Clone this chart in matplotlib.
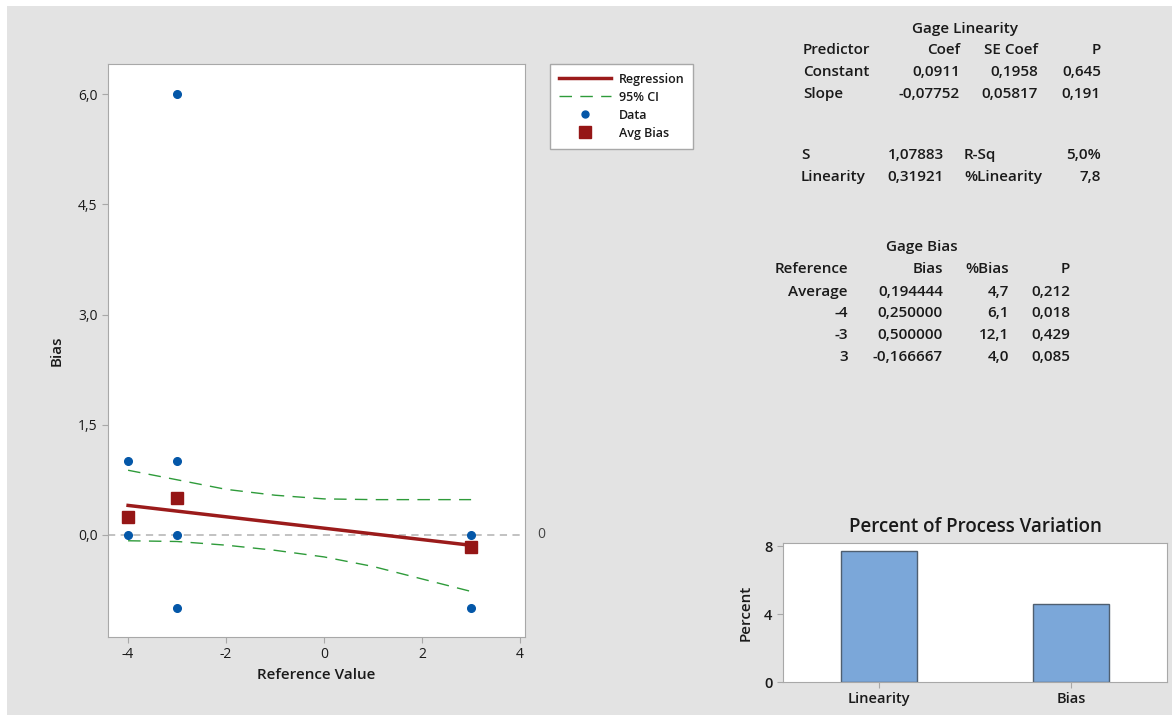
import numpy as np
import matplotlib
matplotlib.use("Agg")
import matplotlib.pyplot as plt
from matplotlib.lines import Line2D
from matplotlib.patches import Rectangle

plt.rcParams['font.family'] = ['Open Sans', 'DejaVu Sans']
plt.rcParams['axes.unicode_minus'] = False

# --------------------- DATA
ref_data = [-4, -4, -3, -3, -3, -3, 3, 3]
bias_data = [1.0, 0.0, 6.0, 1.0, 0.0, -1.0, 0.0, -1.0]

ref_levels = [-4, -3, 3]
avg_bias = [0.25, 0.5, -0.166667]

coef_const = 0.0911
coef_slope = -0.07752

ci_x = [-4, -3, -2, -1, 0, 1, 2, 3]
ci_upper = [0.88, 0.75, 0.62, 0.54, 0.49, 0.48, 0.48, 0.48]
ci_lower = [-0.08, -0.09, -0.14, -0.21, -0.30, -0.43, -0.60, -0.77]

bar_labels = ['Linearity', 'Bias']
bar_values = [7.7, 4.6]

lin_header = ['Predictor', 'Coef', 'SE Coef', 'P']
lin_rows = [['Constant', '0,0911', '0,1958', '0,645'],
            ['Slope', '-0,07752', '0,05817', '0,191']]
lin_stats = [['S', '1,07883', 'R-Sq', '5,0%'],
             ['Linearity', '0,31921', '%Linearity', '7,8']]

bias_header = ['Reference', 'Bias', '%Bias', 'P']
bias_rows = [['Average', '0,194444', '4,7', '0,212'],
             ['-4', '0,250000', '6,1', '0,018'],
             ['-3', '0,500000', '12,1', '0,429'],
             ['3', '-0,166667', '4,0', '0,085']]

# --------------------- FIGURE
W, H = 1172, 715
fig = plt.figure(figsize=(W / 100, H / 100), dpi=100, facecolor='white')
bg = '#E3E3E3'
fig.patches.append(Rectangle((7 / W, 0), 1 - 7 / W, 1 - 6 / H, transform=fig.transFigure,
                             facecolor=bg, edgecolor='none', zorder=-10))


def fx(px):
    return px / W


def fy(py):
    return 1 - py / H


txt = '#1A1A1A'
spine_c = '#A8A8A8'

# --------------------- MAIN SCATTER
ax = fig.add_axes([fx(108), fy(637), fx(525) - fx(108), fy(64) - fy(637)])
ax.set_facecolor('white')
for s in ax.spines.values():
    s.set_color(spine_c)
ax.set_xlim(-4.41, 4.1)
ax.set_ylim(-1.39, 6.41)
ax.set_xticks([-4, -2, 0, 2, 4])
ax.set_yticks([0, 1.5, 3, 4.5, 6])
ax.set_yticklabels([f'{v:.1f}'.replace('.', ',') for v in [0, 1.5, 3, 4.5, 6]])
ax.tick_params(colors=spine_c, labelcolor=txt, labelsize=10, length=4)

ax.axhline(0, color='#BDBDBD', lw=1.3, ls=(0, (4, 3)), zorder=1)
ax.text(4.1 + 0.25, 0, '0', va='center', ha='left', fontsize=10, color='#444444',
        transform=ax.transData, clip_on=False)

xr = np.array([ref_levels[0], ref_levels[-1]])
ax.plot(xr, coef_const + coef_slope * xr, color='#9B1B1B', lw=2.5, zorder=3)
ax.plot(ci_x, ci_upper, color='#2E9B3A', lw=1.0, ls=(0, (9, 6)), zorder=2)
ax.plot(ci_x, ci_lower, color='#2E9B3A', lw=1.0, ls=(0, (9, 6)), zorder=2)
ax.plot(ref_data, bias_data, 'o', color='#0457A8', ms=5.5, zorder=4, ls='none')
ax.plot(ref_levels, avg_bias, 's', color='#951616', ms=8.5, zorder=5, ls='none')

ax.set_xlabel('Reference Value', fontsize=11, color=txt, fontweight='semibold', labelpad=4)
ax.set_ylabel('Bias', fontsize=11, color=txt, fontweight='semibold', labelpad=10)

handles = [Line2D([], [], color='#9B1B1B', lw=2.5),
           Line2D([], [], color='#2E9B3A', lw=1.0, ls=(0, (9, 6))),
           Line2D([], [], color='#0457A8', marker='o', ms=5, ls='none'),
           Line2D([], [], color='#951616', marker='s', ms=8, ls='none')]
leg = fig.legend(handles, ['Regression', '95% CI', 'Data', 'Avg Bias'],
                 loc='upper left', bbox_to_anchor=(fx(550), fy(64)),
                 bbox_transform=fig.transFigure, fontsize=9, frameon=True,
                 fancybox=False, borderaxespad=0, handlelength=4.2,
                 labelspacing=0.4, borderpad=0.7, handletextpad=0.6)
leg.get_frame().set_edgecolor(spine_c)
leg.get_frame().set_linewidth(1.0)
leg.get_frame().set_alpha(1.0)
for t in leg.get_texts():
    t.set_color(txt)
    t.set_fontweight('semibold')

# --------------------- GAGE LINEARITY TABLE
fs = 11
fig.text(fx(965), fy(29), 'Gage Linearity', ha='center', va='center', fontsize=fs,
         color=txt, fontweight='semibold')
lin_x = [(803, 'left'), (960, 'right'), (1038, 'right'), (1101, 'right')]
for row, py in zip([lin_header] + lin_rows, [50, 72, 94]):
    for val, (px, ha) in zip(row, lin_x):
        fig.text(fx(px), fy(py), val, ha=ha, va='center', fontsize=fs, color=txt,
                 fontweight='semibold')
stat_x = [(801, 'left'), (944, 'right'), (964, 'left'), (1101, 'right')]
for row, py in zip(lin_stats, [155, 177]):
    for val, (px, ha) in zip(row, stat_x):
        fig.text(fx(px), fy(py), val, ha=ha, va='center', fontsize=fs, color=txt,
                 fontweight='semibold')

# --------------------- GAGE BIAS TABLE
fig.text(fx(922), fy(247), 'Gage Bias', ha='center', va='center', fontsize=fs,
         color=txt, fontweight='semibold')
bias_x = [848, 943, 1009, 1070]
for row, py in zip([bias_header] + bias_rows, [269, 292, 313, 335, 357]):
    for val, px in zip(row, bias_x):
        fig.text(fx(px), fy(py), val, ha='right', va='center', fontsize=fs, color=txt,
                 fontweight='semibold')

# --------------------- PERCENT OF PROCESS VARIATION
bx = fig.add_axes([fx(783), fy(682), fx(1167) - fx(783), fy(543) - fy(682)])
bx.set_facecolor('white')
for s in bx.spines.values():
    s.set_color(spine_c)
bx.bar(range(len(bar_labels)), bar_values, width=0.4, color='#7BA7D9',
       edgecolor='#4F5F70', linewidth=1.0)
bx.set_xlim(-0.5, 1.5)
bx.set_ylim(0, 8.18)
bx.set_yticks([0, 4, 8])
bx.set_xticks(range(len(bar_labels)))
bx.set_xticklabels(bar_labels)
bx.tick_params(colors=spine_c, labelcolor=txt, labelsize=10.5, length=4)
for t in bx.get_xticklabels() + bx.get_yticklabels():
    t.set_fontweight('semibold')
bx.set_ylabel('Percent', fontsize=11, color=txt, fontweight='semibold', labelpad=8)
bx.set_title('Percent of Process Variation', fontsize=13.5, color=txt,
             fontweight='semibold', pad=8)

fig.savefig('out.png', dpi=100, facecolor=fig.get_facecolor())
